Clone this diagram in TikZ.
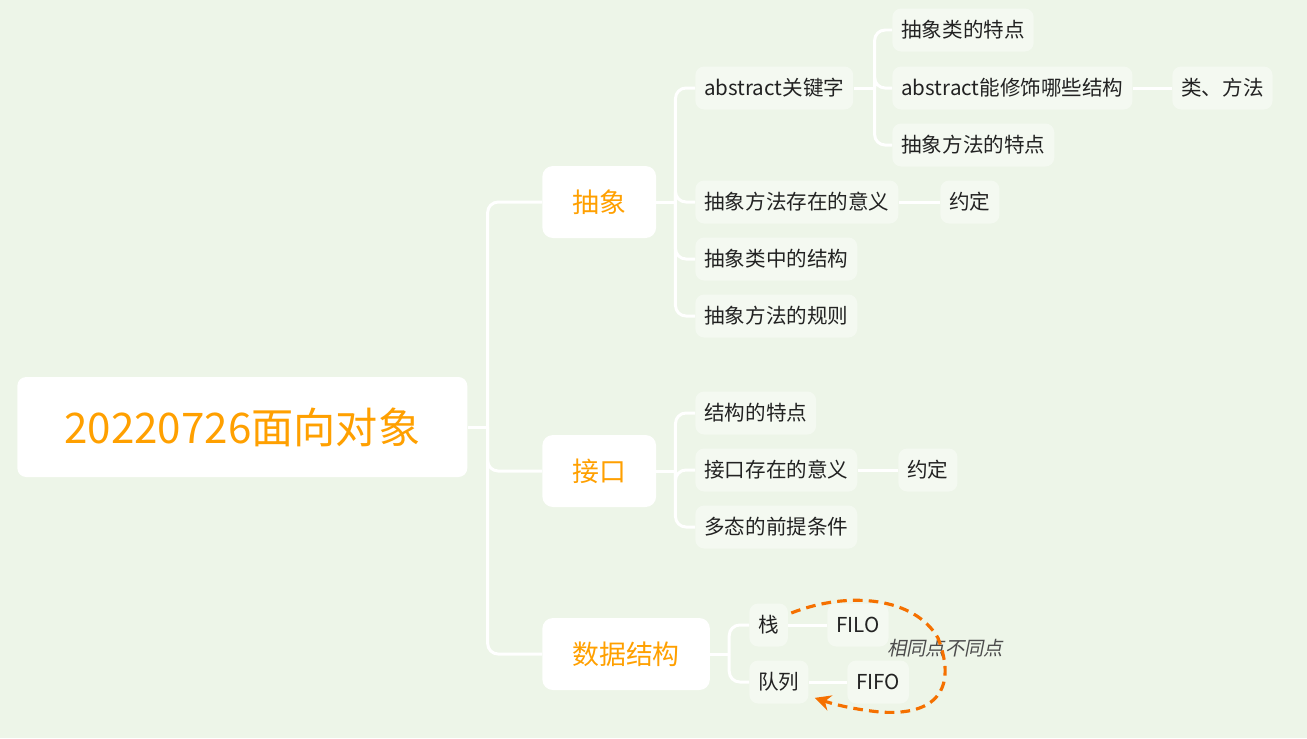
\documentclass[tikz,border=0pt]{standalone}
\usepackage{fontspec}
\setmainfont{Noto Sans CJK SC}
\newfontfamily\slantfont[FakeSlant=0.2]{Noto Sans CJK SC}
\usetikzlibrary{arrows.meta,positioning,calc}
\definecolor{paper}{RGB}{237,245,232}
\definecolor{leafbg}{RGB}{244,249,241}
\definecolor{topicfg}{RGB}{255,160,0}
\definecolor{inkc}{RGB}{34,34,34}
\definecolor{notec}{RGB}{245,112,0}

\begin{document}
\begin{tikzpicture}[
      x=0.02cm, y=-0.02cm,
      rootbox/.style={fill=white,rounded corners=5pt,minimum width=9cm,minimum height=2cm,text=topicfg,font=\fontsize{24}{27}\selectfont},
      topic/.style={fill=white,rounded corners=6pt,minimum height=1.44cm,inner xsep=0.6cm,text=topicfg,font=\fontsize{15.3}{18}\selectfont},
      leaf/.style={fill=leafbg,rounded corners=5pt,minimum height=0.86cm,inner xsep=0.18cm,text=inkc,font=\fontsize{11.7}{14}\selectfont},
      link/.style={draw=white,line width=1.7pt,rounded corners=6pt},
      note/.style={draw=notec,line width=1.8pt,dash pattern=on 5.5pt off 3.5pt,-{Stealth[length=9pt,width=9pt]}},
    ]
    \fill[paper] (0,0) rectangle (1307,738);
    \useasboundingbox (0,0) rectangle (1307,738);

    \node[rootbox,anchor=west] (root) at (17,427) {20220726面向对象};
    \node[topic,anchor=west] (abs) at (542,202) {抽象};
    \node[topic,anchor=west] (itf) at (542,471) {接口};
    \node[topic,anchor=west] (ds)  at (542,654) {数据结构};

    % abstract
    \node[leaf,anchor=west] (kw)   at (695,88)  {abstract关键字};
    \node[leaf,anchor=west] (kw1)  at (892,30)  {抽象类的特点};
    \node[leaf,anchor=west] (kw2)  at (892,88)  {abstract能修饰哪些结构};
    \node[leaf,anchor=west] (kw2a) at (1172,88) {类、方法};
    \node[leaf,anchor=west] (kw3)  at (892,145) {抽象方法的特点};
    \node[leaf,anchor=west] (am)   at (695,202) {抽象方法存在的意义};
    \node[leaf,anchor=west] (ama)  at (940,202) {约定};
    \node[leaf,anchor=west] (ac)   at (695,259) {抽象类中的结构};
    \node[leaf,anchor=west] (ar)   at (695,316) {抽象方法的规则};

    % interface
    \node[leaf,anchor=west] (is)  at (695,413) {结构的特点};
    \node[leaf,anchor=west] (im)  at (695,470) {接口存在的意义};
    \node[leaf,anchor=west] (ima) at (898,470) {约定};
    \node[leaf,anchor=west] (ip)  at (695,527) {多态的前提条件};

    % data structures
    \node[leaf,anchor=west] (st)   at (749,625) {栈};
    \node[leaf,anchor=west] (qu)   at (749,682) {队列};
    \node[leaf,anchor=west] (filo) at (827,625) {FILO};
    \node[leaf,anchor=west] (fifo) at (847,682) {FIFO};

    \draw[link] (root.east) -- ++(20,0);
    \foreach \t in {abs,itf,ds} {
      \draw[link] ($(root.east)+(20,0)$) |- (\t.west);
    }
    \draw[link] (abs.east) -- ++(19,0);
    \foreach \t in {kw,am,ac,ar} {
      \draw[link] ($(abs.east)+(19,0)$) |- (\t.west);
    }
    \draw[link] (kw.east) -- ++(21,0);
    \foreach \t in {kw1,kw2,kw3} {
      \draw[link] ($(kw.east)+(21,0)$) |- (\t.west);
    }
    \draw[link] (itf.east) -- ++(19,0);
    \foreach \t in {is,im,ip} {
      \draw[link] ($(itf.east)+(19,0)$) |- (\t.west);
    }
    \draw[link] (ds.east) -- ++(19,0);
    \foreach \t in {st,qu} {
      \draw[link] ($(ds.east)+(19,0)$) |- (\t.west);
    }
    \draw[link] (kw2.east) -- (kw2a.west);
    \draw[link] (am.east) -- (ama.west);
    \draw[link] (im.east) -- (ima.west);
    \draw[link] (st.east) -- (filo.west);
    \draw[link] (qu.east) -- (fifo.west);

    \node[text=black!70,font=\slantfont\fontsize{11}{13}\selectfont] (cmp) at (945,648) {相同点不同点};
    \draw[note] ($(st.east)+(3,-12)$) .. controls (850,590) and (915,598) .. (938,638)
      .. controls (958,690) and (935,716) .. (880,712)
      .. controls (850,709) and (830,703) .. ($(qu.south east)+(6,-6)$);
  \end{tikzpicture}
\end{document}
